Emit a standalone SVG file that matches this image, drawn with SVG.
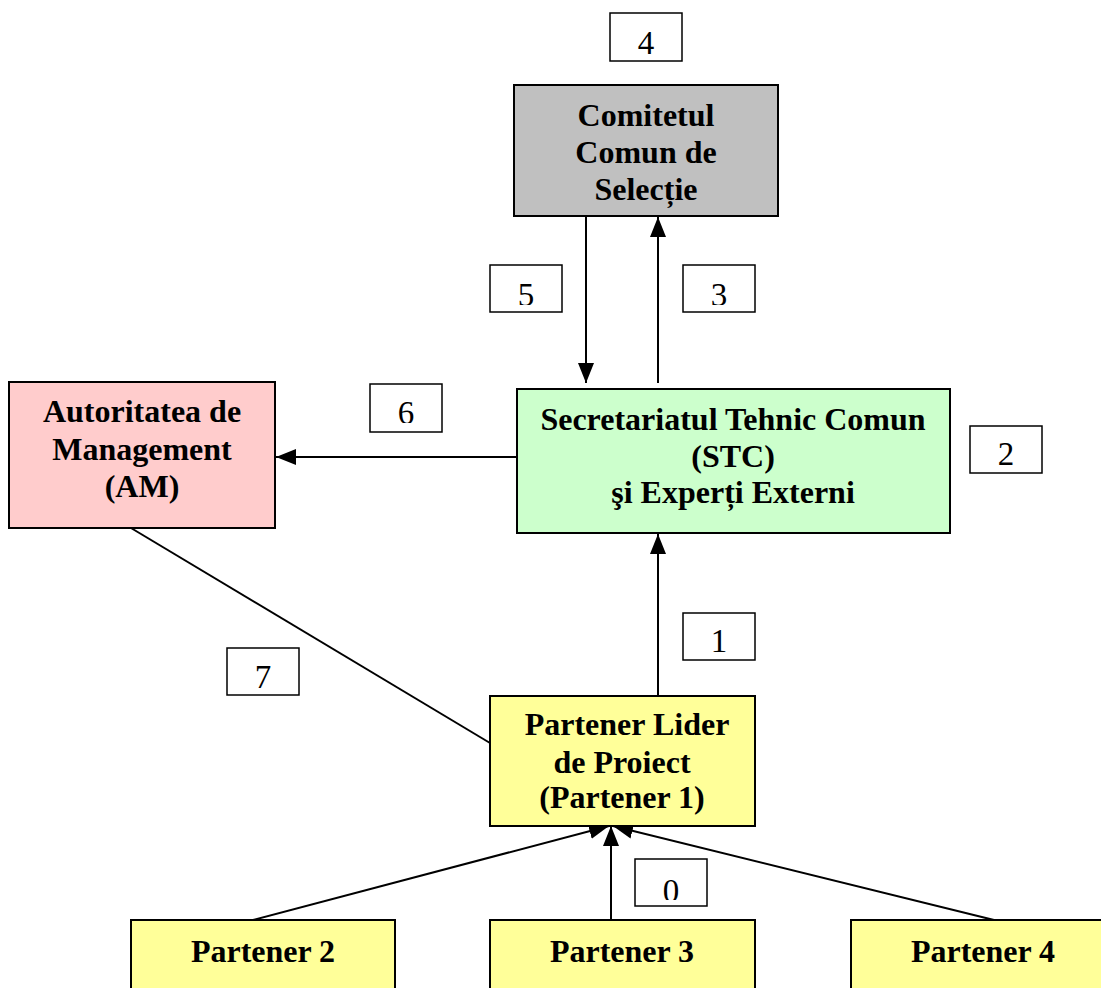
<svg xmlns="http://www.w3.org/2000/svg" width="1101" height="988" viewBox="0 0 1101 988">
<defs>
<style>
.n{stroke:#000;stroke-width:2}
.t{font-family:"Liberation Serif","Times New Roman",serif;font-weight:bold;font-size:32px;text-anchor:middle;fill:#000}
.lb{fill:#fff;stroke:#000;stroke-width:1.5}
.lt{font-family:"Liberation Serif","Times New Roman",serif;font-size:33px;text-anchor:middle;fill:#000}
.c{stroke:#000;stroke-width:2;fill:none}
</style>
<marker id="ah" viewBox="0 0 20 20" refX="20" refY="10" markerWidth="20" markerHeight="20" markerUnits="userSpaceOnUse" orient="auto">
<path d="M0,2 L20,10 L0,18 Z" fill="#000"/>
</marker>
<clipPath id="k5"><rect x="491" y="266" width="70" height="39"/></clipPath>
<clipPath id="k3"><rect x="684" y="266" width="70" height="39"/></clipPath>
<clipPath id="k6"><rect x="371" y="385" width="70" height="38"/></clipPath>
<clipPath id="k0"><rect x="635" y="860" width="70" height="40"/></clipPath>
</defs>
<rect width="1101" height="988" fill="#fff"/>
<g id="connectors">
<line class="c" x1="586" y1="216" x2="586" y2="383" marker-end="url(#ah)"/>
<line class="c" x1="658" y1="383" x2="658" y2="217" marker-end="url(#ah)"/>
<line class="c" x1="517" y1="457" x2="276" y2="457" marker-end="url(#ah)"/>
<line class="c" x1="131" y1="528" x2="490" y2="743"/>
<line class="c" x1="658" y1="696" x2="658" y2="534" marker-end="url(#ah)"/>
<line class="c" x1="253" y1="920" x2="609" y2="826" marker-end="url(#ah)"/>
<line class="c" x1="611" y1="920" x2="611" y2="826" marker-end="url(#ah)"/>
<line class="c" x1="994" y1="920" x2="613" y2="826" marker-end="url(#ah)"/>
</g>
<g id="ccs">
<rect class="n" x="514" y="85" width="264" height="131" fill="#c0c0c0"/>
<text class="t" x="646" y="126">Comitetul</text>
<text class="t" x="646" y="163">Comun de</text>
<text class="t" x="646" y="200">Selecție</text>
</g>
<g id="stc">
<rect class="n" x="517" y="389" width="433" height="144" fill="#ccffcc"/>
<text class="t" x="733" y="430">Secretariatul Tehnic Comun</text>
<text class="t" x="733" y="467">(STC)</text>
<text class="t" x="733" y="503">şi Experți Externi</text>
</g>
<g id="am">
<rect class="n" x="9" y="382" width="266" height="146" fill="#ffcccc"/>
<text class="t" x="142" y="422">Autoritatea de</text>
<text class="t" x="142" y="460">Management</text>
<text class="t" x="142" y="497">(AM)</text>
</g>
<g id="lider">
<rect class="n" x="490" y="696" width="265" height="130" fill="#ffff99"/>
<text class="t" x="627" y="735">Partener Lider</text>
<text class="t" x="622" y="773">de Proiect</text>
<text class="t" x="622" y="808">(Partener 1)</text>
</g>
<g id="p2">
<rect class="n" x="131" y="920" width="264" height="80" fill="#ffff99"/>
<text class="t" x="263" y="962">Partener 2</text>
</g>
<g id="p3">
<rect class="n" x="490" y="920" width="265" height="80" fill="#ffff99"/>
<text class="t" x="622" y="962">Partener 3</text>
</g>
<g id="p4">
<rect class="n" x="851" y="920" width="265" height="80" fill="#ffff99"/>
<text class="t" x="983" y="962">Partener 4</text>
</g>
<g id="labels">
<rect class="lb" x="610" y="13" width="72" height="48"/><text class="lt" x="646" y="54">4</text>
<rect class="lb" x="490" y="265" width="72" height="47"/><text class="lt" x="526" y="306" clip-path="url(#k5)">5</text>
<rect class="lb" x="683" y="265" width="72" height="47"/><text class="lt" x="719" y="306" clip-path="url(#k3)">3</text>
<rect class="lb" x="370" y="384" width="72" height="48"/><text class="lt" x="406" y="424" clip-path="url(#k6)">6</text>
<rect class="lb" x="970" y="426" width="72" height="47"/><text class="lt" x="1006" y="465">2</text>
<rect class="lb" x="683" y="613" width="72" height="47"/><text class="lt" x="719" y="652">1</text>
<rect class="lb" x="227" y="648" width="72" height="47"/><text class="lt" x="263" y="688">7</text>
<rect class="lb" x="635" y="859" width="72" height="47"/><text class="lt" x="671" y="902" clip-path="url(#k0)">0</text>
</g>
</svg>
